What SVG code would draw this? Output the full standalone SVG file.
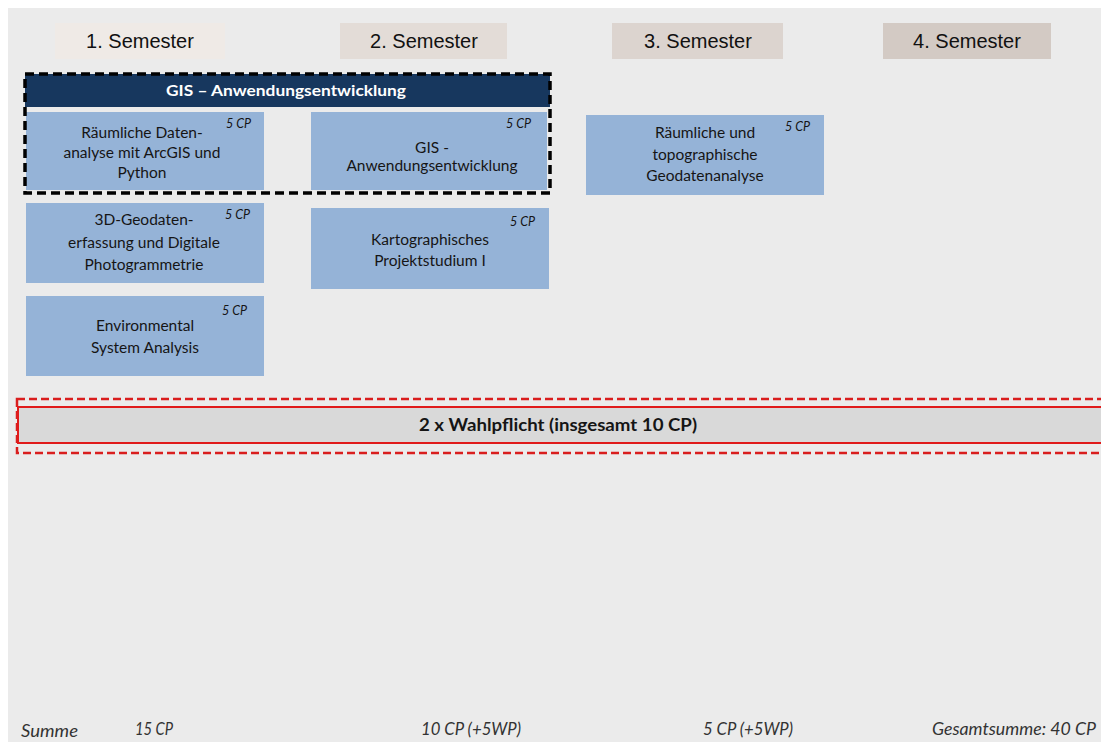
<svg xmlns="http://www.w3.org/2000/svg" width="1101" height="742" viewBox="0 0 1101 742">
<style>
.sem{font-family:"Liberation Sans",Arial,sans-serif;font-size:20px;fill:#111;text-anchor:middle}
.mod{fill:#95b3d7}
.mt{font-family:Lato,"Open Sans",sans-serif;font-size:15.5px;fill:#151515;text-anchor:middle}
.cp{font-family:Lato,"Open Sans",sans-serif;font-size:12.5px;font-style:italic;fill:#151515}
.sum{font-family:Lato,"Open Sans",sans-serif;font-size:16.5px;font-style:italic;fill:#333}
</style>
<rect x="0" y="0" width="1101" height="742" fill="#ffffff"/>
<rect x="8" y="8" width="1093" height="734" fill="#ebebeb"/>

<g id="semesters">
<g id="sem1"><rect x="55" y="23" width="170" height="36" fill="#efeae6"/><text class="sem" x="140" y="48">1. Semester</text></g>
<g id="sem2"><rect x="340" y="23" width="167" height="36" fill="#e3dcd7"/><text class="sem" x="424" y="48">2. Semester</text></g>
<g id="sem3"><rect x="612" y="23" width="171" height="36" fill="#dcd4cf"/><text class="sem" x="698" y="48">3. Semester</text></g>
<g id="sem4"><rect x="883" y="23" width="168" height="36" fill="#d3cac4"/><text class="sem" x="967" y="48">4. Semester</text></g>
</g>

<g id="gis-group">
<rect x="25" y="74" width="525" height="33" fill="#17375e"/>
<text x="286" y="96" font-family="Lato,'Open Sans',sans-serif" font-size="15px" font-weight="bold" fill="#ffffff" text-anchor="middle" textLength="240" lengthAdjust="spacingAndGlyphs">GIS – Anwendungsentwicklung</text>
</g>

<g id="m1"><rect class="mod" x="26" y="112" width="238" height="78"/>
<text class="mt" x="142" y="138">Räumliche Daten-</text>
<text class="mt" x="142" y="158">analyse mit ArcGIS und</text>
<text class="mt" x="142" y="178">Python</text>
<text class="cp" x="226" y="128">5 CP</text></g>

<g id="m2"><rect class="mod" x="311" y="112" width="236" height="78"/>
<text class="mt" x="432" y="153">GIS -</text>
<text class="mt" x="432" y="171">Anwendungsentwicklung</text>
<text class="cp" x="506" y="128">5 CP</text></g>

<g id="m3"><rect class="mod" x="586" y="115" width="238" height="80"/>
<text class="mt" x="705" y="138">Räumliche und</text>
<text class="mt" x="705" y="160">topographische</text>
<text class="mt" x="705" y="181">Geodatenanalyse</text>
<text class="cp" x="785" y="131">5 CP</text></g>

<rect id="gis-border" x="25" y="74" width="525" height="119" fill="none" stroke="#000" stroke-width="3.5" stroke-dasharray="9,5"/>

<g id="m4"><rect class="mod" x="26" y="203" width="238" height="80"/>
<text class="mt" x="144" y="225">3D-Geodaten-</text>
<text class="mt" x="144" y="248">erfassung und Digitale</text>
<text class="mt" x="144" y="270">Photogrammetrie</text>
<text class="cp" x="225" y="219">5 CP</text></g>

<g id="m5"><rect class="mod" x="311" y="208" width="238" height="81"/>
<text class="mt" x="430" y="245">Kartographisches</text>
<text class="mt" x="430" y="266">Projektstudium I</text>
<text class="cp" x="510" y="226">5 CP</text></g>

<g id="m6"><rect class="mod" x="26" y="296" width="238" height="80"/>
<text class="mt" x="145" y="331">Environmental</text>
<text class="mt" x="145" y="353">System Analysis</text>
<text class="cp" x="222" y="315">5 CP</text></g>

<g id="wahlpflicht">
<rect x="17" y="399" width="1090" height="54" fill="none" stroke="#d91e1e" stroke-width="2.5" stroke-dasharray="8,4"/>
<rect x="18" y="407" width="1090" height="36" fill="#d9d9d9" stroke="#e01b1b" stroke-width="2"/>
<text x="558" y="431" font-family="Lato,'Open Sans',sans-serif" font-size="16.5px" font-weight="bold" fill="#151515" text-anchor="middle" textLength="278" lengthAdjust="spacingAndGlyphs">2 x Wahlpflicht (insgesamt 10 CP)</text>
</g>

<g id="sums">
<text class="sum" x="21" y="737" textLength="57" lengthAdjust="spacingAndGlyphs">Summe</text>
<text class="sum" x="135" y="735" textLength="38" lengthAdjust="spacingAndGlyphs">15 CP</text>
<text class="sum" x="421" y="735" textLength="100" lengthAdjust="spacingAndGlyphs">10 CP (+5WP)</text>
<text class="sum" x="703" y="735" textLength="90" lengthAdjust="spacingAndGlyphs">5 CP (+5WP)</text>
<text class="sum" x="932" y="735" textLength="164" lengthAdjust="spacingAndGlyphs">Gesamtsumme: 40 CP</text>
</g>
</svg>
